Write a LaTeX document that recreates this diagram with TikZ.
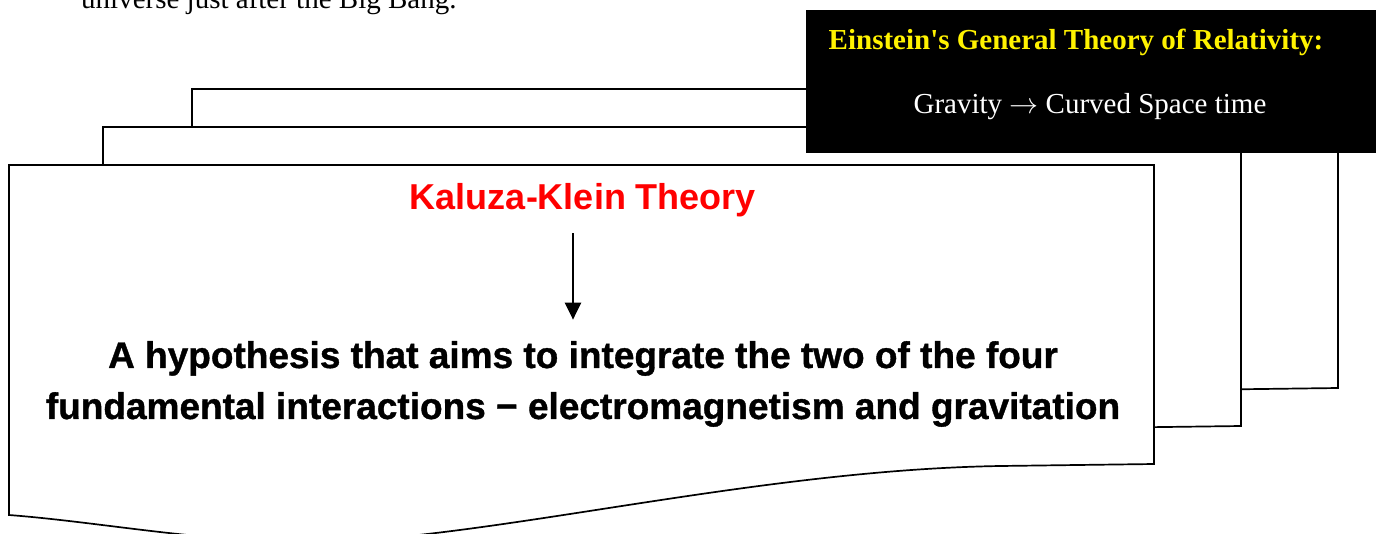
\documentclass[tikz,border=0pt]{standalone}
\usepackage{fix-cm}
\usepackage{fontspec}
\setmainfont{Liberation Serif}
\newfontfamily\arialf{Liberation Sans}
\newfontfamily\arialheavy{Liberation Sans Bold}[FakeBold=1.0]
\usetikzlibrary{arrows.meta}
\tikzset{
  docline/.style={draw=black,line width=1.7pt,fill=white,line join=miter},
  docshape/.pic={
    \path[docline] (0,0) -- (1145,0) -- (1145,299) -- (991,301)
      .. controls (741,305) and (471,377) .. (301,377)
      .. controls (191,377) and (91,357) .. (0,350) -- cycle;
  },
  serif29/.style={font=\fontsize{29}{34}\selectfont},
  arialbig/.style={font=\arialheavy\fontsize{37}{51}\selectfont},
  arr/.style={-{Triangle[width=16pt,length=17pt]},line width=2.5pt}
}
\begin{document}
\begin{tikzpicture}[x=1pt,y=-1pt]
\useasboundingbox (0,0) rectangle (1379,533);
\clip (0,0) rectangle (1379,533);
\fill[white] (0,0) rectangle (1379,533);
% top cut-off text
\node[serif29,anchor=base west,inner sep=0] (toptext) at (81,8) {universe just after the Big Bang.};
% stacked documents
\pic[xscale=1.0009] at (192,89) {docshape};
\pic[xscale=0.9939] at (103,127) {docshape};
\pic at (9,165) {docshape};
% black box
\node[fill=black,minimum width=570pt,minimum height=143pt,inner sep=0,anchor=north west] (einbox) at (806,10) {};
\node[font=\fontsize{29}{34}\selectfont\bfseries,text=yellow] (eintitle) at (1076,42) {Einstein\textquotesingle s General Theory of Relativity:};
\node[serif29,text=white] (grav) at (1090,107) {Gravity $\rightarrow$ Curved Space time};
% front document content
\node[text=red,font=\arialf\bfseries\fontsize{36}{40}\selectfont] (kk) at (583,200) {Kaluza-Klein Theory};
\node[arialbig,align=center] (hyp) at (583,384) {A hypothesis that aims to integrate the two of the four\\fundamental interactions − electromagnetism and gravitation};
\draw[arr] ([xshift=-10pt,yshift=-13pt]kk.south) -- ([xshift=-10pt,yshift=18pt]hyp.north);
\end{tikzpicture}
\end{document}
